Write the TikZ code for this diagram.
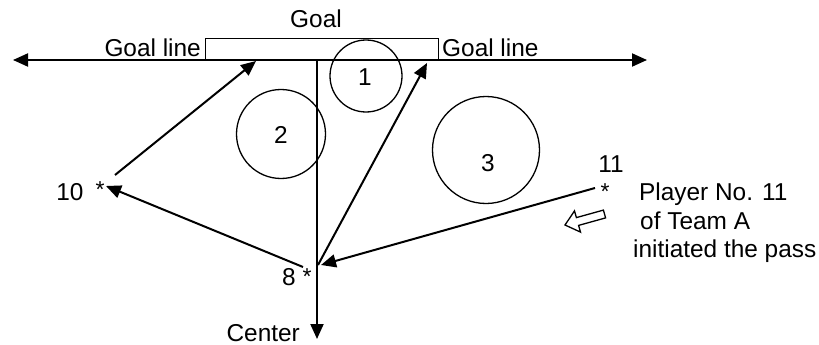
\documentclass[tikz,border=0pt]{standalone}
\usepackage{fontspec}
\setmainfont{Liberation Sans}
\usetikzlibrary{arrows.meta}
\begin{document}
\begin{tikzpicture}[x=1pt,y=-1pt,
  txt/.style={inner sep=0pt,font=\fontsize{24.4}{28}\selectfont},
  star/.style={inner sep=0pt,anchor=base,font=\fontsize{23}{26}\selectfont},
  zone/.style={circle,draw,line width=1.3pt,inner sep=0pt},
  pass/.style={line width=2pt,-{Triangle[length=15pt,width=13pt]}},
  field/.style={line width=2pt}]
\useasboundingbox (0,0) rectangle (819,345);
% goal
\node[draw,line width=1.1pt,minimum width=233pt,minimum height=22pt,inner sep=0pt,anchor=north west] (goal) at (205,38) {};
\node[txt,anchor=base] (goaltxt) at (316,28) {Goal};
\node[txt,anchor=base east] (gll) at (201,57) {Goal line};
\node[txt,anchor=base west] (glr) at (442,57) {Goal line};
% goal line and center line
\coordinate (glL) at (13,60);
\coordinate (glR) at (647,60);
\coordinate (ctop) at (317,60);
\coordinate (cbot) at (317,339);
\draw[field,{Triangle[length=15pt,width=13pt]}-{Triangle[length=15pt,width=13pt]}] (glL) -- (glR);
\draw[field,-{Triangle[length=15pt,width=13pt]}] (ctop) -- (cbot);
\node[txt,anchor=base east] (center) at (300,341) {Center};
% zones
\node[zone,minimum size=72pt] (z1) at (366,76) {};
\node[zone,minimum size=89pt] (z2) at (281,134) {};
\node[zone,minimum size=107pt] (z3) at (486,150) {};
\node[txt,anchor=base] (n1) at (365,85) {1};
\node[txt,anchor=base] (n2) at (281,143) {2};
\node[txt,anchor=base] (n3) at (488,171) {3};
% players
\node[star] (s10) at (100,197) {*};
\node[star] (s8) at (307,284) {*};
\node[star] (s11) at (605,199) {*};
\node[txt,anchor=base] (l10) at (70,200) {10};
\node[txt,anchor=base] (l8) at (289,285) {8};
\node[txt,anchor=base] (l11) at (611,172) {11};
% pass end points
\coordinate (a1s) at (115,175);
\coordinate (a1e) at (256,61);
\coordinate (a2s) at (303,267);
\coordinate (a2e) at (106,186);
\coordinate (a3s) at (318,265);
\coordinate (a3e) at (427,63);
\coordinate (a4s) at (595,188);
\coordinate (a4e) at (321,265);
\draw[pass] (a1s) -- (a1e);
\draw[pass] (a2s) -- (a2e);
\draw[pass] (a3s) -- (a3e);
\draw[pass] (a4s) -- (a4e);
% hollow arrow
\draw[line width=1.3pt,line join=miter] (565,225) -- (574.5,210.9) -- (576.4,217.6) -- (603.4,210.1)
  -- (605.6,217.9) -- (578.6,225.4) -- (580.5,232.1) -- cycle;
% caption
\node[txt,anchor=base west] (cap1) at (639,200) {Player No. 11};
\node[txt,anchor=base west] (cap2) at (640,229) {of Team A};
\node[txt,anchor=base west] (cap3) at (633,257) {initiated the pass};
\end{tikzpicture}
\end{document}
